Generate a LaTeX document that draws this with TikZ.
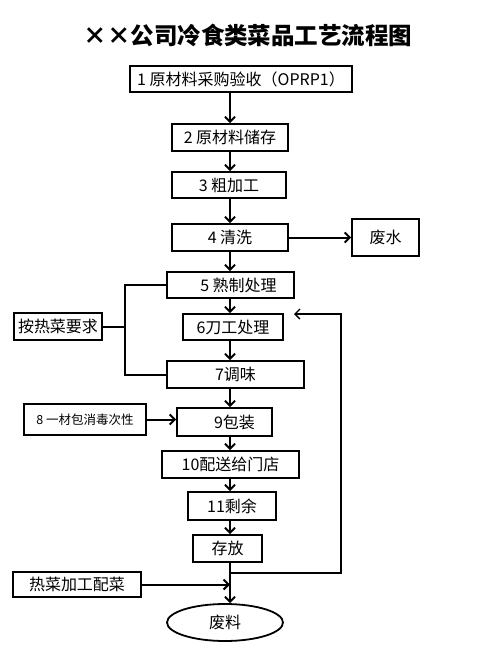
\documentclass[tikz,border=0pt]{standalone}
\usepackage{fontspec}
\newfontfamily\cjk{Noto Sans CJK SC}
\usetikzlibrary{arrows.meta,shapes.geometric}
\tikzset{
  box/.style={draw, line width=1.8pt, inner sep=0pt, font=\cjk\fontsize{16}{16}\selectfont},
  flow/.style={line width=2pt, -{Straight Barb[length=5pt,width=10pt]}},
  link/.style={line width=2pt},
}
\begin{document}
\begin{tikzpicture}[x=1pt,y=-1pt]
			\useasboundingbox (0,0) rectangle (503,670);
			% Title
			\node[font=\cjk\bfseries\fontsize{23.5}{23.5}\selectfont] (title) at (248,35) {××公司冷食类菜品工艺流程图};
			
			% Main column of steps
			\foreach \nm/\x/\y/\w/\h/\txt in {
				n1/241/79/222/26/{1 原材料采购验收（OPRP1）},
				n2/230/137.5/116/27/{2 原材料储存},
				n3/229/185/114/26/{3 粗加工\hspace{14pt}},
				n4/230/237.5/116/27/{4 清洗\hspace{26pt}},
				n5/230.5/285/127/26/{\hspace{16pt}5 熟制处理},
				n6/233/327/100/26/{6刀工处理},
				n7/235.5/374.5/137/27/{7调味},
				n9/224.5/422/95/28/{\hspace{20pt}9包装},
				n10/230.5/464.5/137/27/{10配送给门店},
				n11/232/506/88/28/{11剩余},
				store/227.5/548.5/69/27/{存放}
			}{
				\node[box, minimum width=\w pt, minimum height=\h pt] (\nm) at (\x,\y) {\txt};
			}
			
			% Side boxes
			\node[box, minimum width=67pt, minimum height=37pt] (water) at (385.5,237.5) {废水};
			\node[box, minimum width=88pt, minimum height=27pt] (req) at (58,326.5) {按热菜要求};
			\node[box, minimum width=122pt, minimum height=31pt, font=\cjk\fontsize{12.5}{12.5}\selectfont] (n8) at (85,419.5) {8 一材包消毒次性};
			\node[box, minimum width=128pt, minimum height=25pt] (hot) at (77,584.5) {热菜加工配菜};
			\node[box, ellipse, minimum width=116pt, minimum height=37pt] (waste) at (225,622.5) {废料};
			
			% Helper coordinates
			\coordinate (axis) at (230,0);
			\coordinate (brk) at (125,0);
			\coordinate (loopstart) at (230,573);
			\coordinate (loopcorner) at (341,314);
			\coordinate (loopend) at (294,314);
			
			% Arrows down the column
			\foreach \a/\b in {n1/n2, n2/n3, n3/n4, n4/n5, n5/n6, n6/n7, n7/n9, n9/n10, n10/n11, n11/store, store/waste}{
				\draw[flow] (\a.south -| axis) -- (\b.north -| axis);
			}
			
			% Side arrows
			\draw[flow] (n4.east) -- (water.west);
			\draw[flow] (n8.east) -- (n8.east -| n9.west);
			\draw[flow] (hot.east) -- (hot.east -| axis);
			
			% Bracket for hot dish requirement
			\draw[link] (n5.west) -- (n5.west -| brk) -- (n7.west -| brk) -- (n7.west);
			\draw[link] (req.east) -- (req.east -| brk);
			
			% Leftovers back to cutting
			\draw[line width=1.4pt, -{Straight Barb[length=5pt,width=10pt]}] (loopstart) -| (loopcorner) -- (loopend);
		\end{tikzpicture}
\end{document}
